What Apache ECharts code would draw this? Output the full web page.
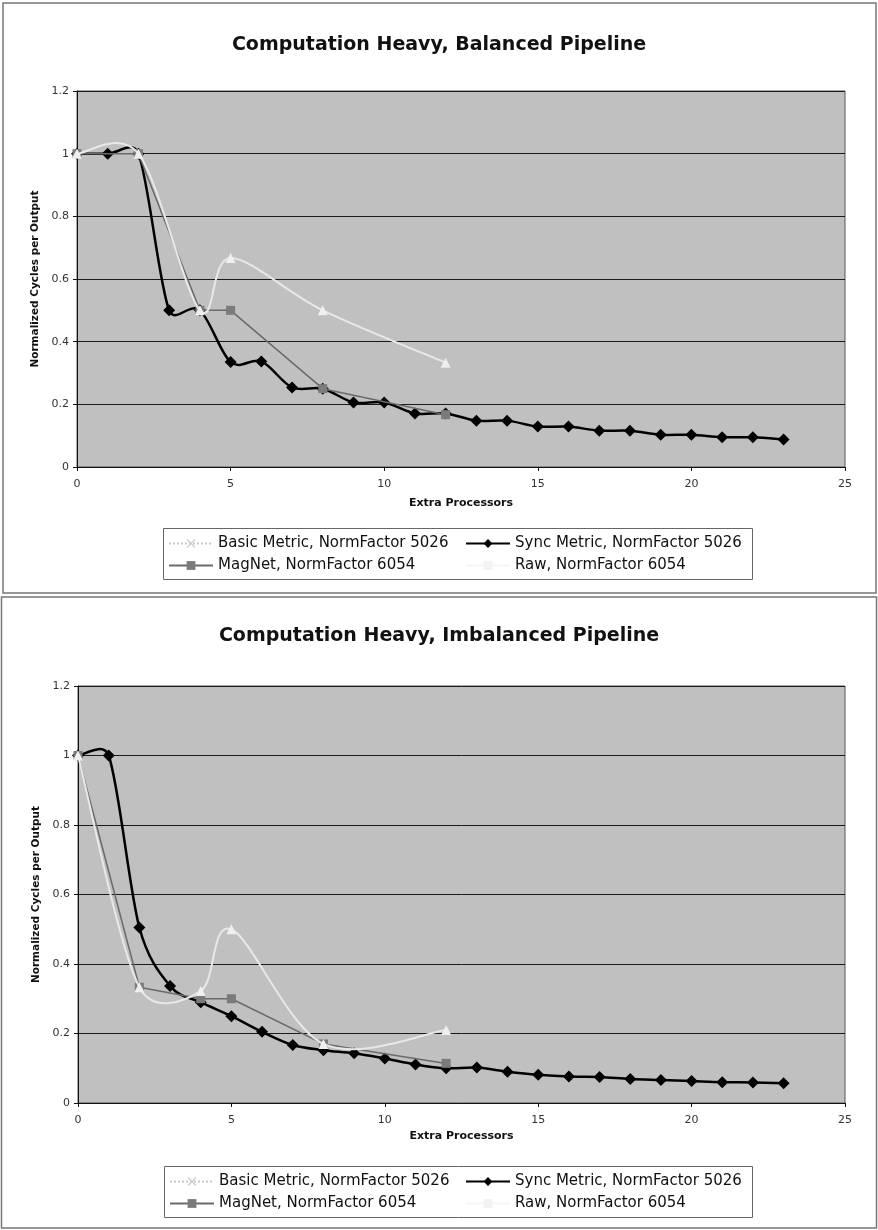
<!DOCTYPE html>
<html>
<head>
<meta charset="utf-8">
<script src="https://cdn.jsdelivr.net/npm/echarts@6/dist/echarts.min.js"></script>
<style>
  html, body { margin: 0; padding: 0; background: #fff; }
  #top { position: absolute; left: 0; top: 0; width: 878px; height: 595px; }
  #bottom { position: absolute; left: 0; top: 595px; width: 878px; height: 635px; }
</style>
</head>
<body>
<div id="top"></div>
<div id="bottom"></div>
<script>
// x positions
const procs = [0, 1, 2, 3, 4, 5, 6, 7, 8, 9, 10, 11, 12, 13, 14, 15, 16, 17, 18, 19, 20, 21, 22, 23];
const subsetProcs = [0, 2, 4, 5, 8, 12];

// balanced pipeline
const balancedSync = [1, 1, 1, 0.5, 0.5, 0.335, 0.337, 0.254, 0.25, 0.206, 0.206, 0.171, 0.171,
  0.148, 0.148, 0.129, 0.129, 0.116, 0.116, 0.103, 0.103, 0.095, 0.095, 0.088];
const balancedBasic = [1, 1, 0.5, 0.667, 0.5, 0.333];
const balancedMagNet = [1, 1, 0.5, 0.5, 0.25, 0.167];

// imbalanced pipeline
const imbalancedSync = [1, 1, 0.505, 0.337, 0.29, 0.25, 0.205, 0.167, 0.152, 0.143, 0.128, 0.111, 0.1,
  0.102, 0.09, 0.081, 0.076, 0.075, 0.069, 0.066, 0.063, 0.06, 0.059, 0.057];
const imbalancedBasic = [1, 0.333, 0.322, 0.5, 0.17, 0.21];
const imbalancedMagNet = [1, 0.333, 0.3, 0.3, 0.17, 0.114];

const titles = ["Computation Heavy, Balanced Pipeline", "Computation Heavy, Imbalanced Pipeline"];
const seriesNames = ["Basic Metric, NormFactor 5026", "Sync Metric, NormFactor 5026",
  "MagNet, NormFactor 6054", "Raw, NormFactor 6054"];

const FONT = "DejaVu Sans";
const X_ICON = "path://M0,1L1,0L5,4L9,0L10,1L6,5L10,9L9,10L5,6L1,10L0,9L4,5Z";

const SYNC = { line: "#000", mark: "#000", width: 2.5 };
const MAGNET = { line: "#6a6a6a", mark: "#7b7b7b", width: 1.5 };
const BASIC = { line: "#e8e8e8", mark: "#efefef", width: 2 };

function pairs(xs, ys) {
  return ys.map((y, i) => [xs[i], y]);
}

function dist(a, b) {
  return Math.hypot(b[0] - a[0], b[1] - a[1]);
}

// handle for the segment a->b at point a, tangent taken from prev->next
function handle(prev, next, segLen) {
  const len = dist(prev, next) || 1;
  const h = Math.min(len / 6, segLen * 0.5);
  return [((next[0] - prev[0]) / len) * h, ((next[1] - prev[1]) / len) * h];
}

// Excel-style smoothed line, drawn in pixel space after the axes map the points
function splineItem(color, width) {
  return function (params, api) {
    if (params.dataIndexInside !== 0) return null;
    const n = params.dataInsideLength;
    const pts = [];
    for (let i = 0; i < n; i++) {
      pts.push(api.coord([api.value(0, i), api.value(1, i)]));
    }
    let d = "M" + pts[0][0] + "," + pts[0][1];
    for (let i = 0; i < n - 1; i++) {
      const p0 = pts[Math.max(i - 1, 0)];
      const p1 = pts[i];
      const p2 = pts[i + 1];
      const p3 = pts[Math.min(i + 2, n - 1)];
      const seg = dist(p1, p2);
      const h1 = handle(p0, p2, seg);
      const h2 = handle(p1, p3, seg);
      d += " C" + (p1[0] + h1[0]) + "," + (p1[1] + h1[1]) + " " +
        (p2[0] - h2[0]) + "," + (p2[1] - h2[1]) + " " + p2[0] + "," + p2[1];
    }
    return {
      type: "path",
      shape: { pathData: d },
      style: { fill: "none", stroke: color, lineWidth: width, lineJoin: "round" },
    };
  };
}

function curveSeries(name, data, st, z) {
  return [
    {
      name: name + "-curve",
      type: "custom",
      data: data,
      z: z,
      renderItem: splineItem(st.line, st.width),
    },
    {
      name: name + "-marks",
      type: "scatter",
      data: data,
      z: z + 1,
      symbol: st.symbol,
      symbolSize: st.size,
      itemStyle: { color: st.mark, opacity: 1 },
    },
  ];
}

function legendSeries(name, symbol, st, lineType) {
  return {
    name: name,
    type: "line",
    data: [],
    symbol: symbol,
    itemStyle: { color: st.mark },
    lineStyle: { color: st.line, width: Math.min(st.width, 2), type: lineType || "solid" },
  };
}

function buildOption(cfg) {
  const legendText = { fontFamily: FONT, fontSize: 15, color: "#111", lineHeight: 17 };
  const legendCommon = {
    orient: "vertical",
    top: cfg.legendTop,
    padding: 0,
    itemWidth: 44,
    itemHeight: 11,
    itemGap: 5,
    textStyle: legendText,
  };
  return {
    animation: false,
    backgroundColor: "#fff",
    title: {
      text: cfg.title,
      left: "center",
      top: cfg.titleTop,
      textStyle: { fontFamily: FONT, fontWeight: "bold", fontSize: 19, color: "#111" },
    },
    graphic: [
      {
        type: "rect",
        shape: cfg.frame,
        style: { fill: null, stroke: "#777", lineWidth: 1.5 },
        silent: true,
      },
      {
        type: "rect",
        shape: cfg.legendBox,
        style: { fill: null, stroke: "#666", lineWidth: 1 },
        silent: true,
      },
    ],
    grid: {
      left: cfg.grid.left,
      top: cfg.grid.top,
      width: cfg.grid.width,
      height: cfg.grid.height,
      show: true,
      backgroundColor: "#c0c0c0",
      borderColor: "#555",
      borderWidth: 1,
    },
    legend: [
      Object.assign({ left: cfg.legendLeft[0], data: [seriesNames[0], seriesNames[2]] }, legendCommon),
      Object.assign({ left: cfg.legendLeft[1], data: [seriesNames[1], seriesNames[3]] }, legendCommon),
    ],
    xAxis: {
      type: "value",
      min: 0,
      max: 25,
      interval: 5,
      name: "Extra Processors",
      nameLocation: "middle",
      nameGap: cfg.xNameGap,
      nameTextStyle: { fontFamily: FONT, fontWeight: "bold", fontSize: 11, color: "#111" },
      axisLine: { lineStyle: { color: "#111", width: 1 } },
      axisTick: { show: true, inside: false, length: 4, lineStyle: { color: "#111" } },
      axisLabel: { fontFamily: FONT, fontSize: 11, color: "#333", margin: 12 },
      splitLine: { show: false },
    },
    yAxis: {
      type: "value",
      min: 0,
      max: 1.2,
      interval: 0.2,
      name: "Normalized Cycles per Output",
      nameLocation: "middle",
      nameGap: 33,
      nameTextStyle: { fontFamily: FONT, fontWeight: "bold", fontSize: 10.5, color: "#111" },
      axisLine: { show: true, lineStyle: { color: "#111", width: 1 } },
      axisTick: { show: true, inside: false, length: 4, lineStyle: { color: "#111" } },
      axisLabel: {
        fontFamily: FONT,
        fontSize: 11,
        color: "#333",
        margin: 8,
        formatter: (v) => String(Math.round(v * 10) / 10),
      },
      splitLine: { show: true, lineStyle: { color: "#1a1a1a", width: 1 } },
    },
    series: [
      ...curveSeries("sync", pairs(procs, cfg.sync), Object.assign({ symbol: "diamond", size: 12 }, SYNC), 2),
      {
        name: seriesNames[2],
        type: "line",
        data: pairs(subsetProcs, cfg.magNet),
        z: 4,
        symbol: "rect",
        symbolSize: 9,
        itemStyle: { color: MAGNET.mark },
        lineStyle: { color: MAGNET.line, width: MAGNET.width },
      },
      ...curveSeries("basic", pairs(subsetProcs, cfg.basic), Object.assign({ symbol: "triangle", size: 10 }, BASIC), 6),
      // legend-only entries
      legendSeries(seriesNames[0], X_ICON, { line: "#c8c8c8", mark: "#cfcfcf", width: 1 }, "dotted"),
      legendSeries(seriesNames[1], "diamond", SYNC),
      legendSeries(seriesNames[3], "rect", { line: "#f6f6f6", mark: "#f2f2f2", width: 1 }),
    ],
  };
}

const topChart = echarts.init(document.getElementById("top"));
topChart.setOption(buildOption({
  title: titles[0],
  titleTop: 31,
  frame: { x: 3, y: 3, width: 873, height: 590 },
  legendBox: { x: 163.5, y: 528.5, width: 589, height: 51 },
  legendLeft: [168, 465],
  legendTop: 535,
  grid: { left: 77, top: 91, width: 768, height: 376 },
  xNameGap: 31,
  sync: balancedSync,
  basic: balancedBasic,
  magNet: balancedMagNet,
}));

const bottomChart = echarts.init(document.getElementById("bottom"));
bottomChart.setOption(buildOption({
  title: titles[1],
  titleTop: 27,
  frame: { x: 1.5, y: 2, width: 875, height: 631 },
  legendBox: { x: 164.5, y: 571.5, width: 588, height: 51 },
  legendLeft: [169, 465],
  legendTop: 578,
  grid: { left: 78, top: 91, width: 767, height: 417 },
  xNameGap: 24,
  sync: imbalancedSync,
  basic: imbalancedBasic,
  magNet: imbalancedMagNet,
}));
</script>
</body>
</html>
